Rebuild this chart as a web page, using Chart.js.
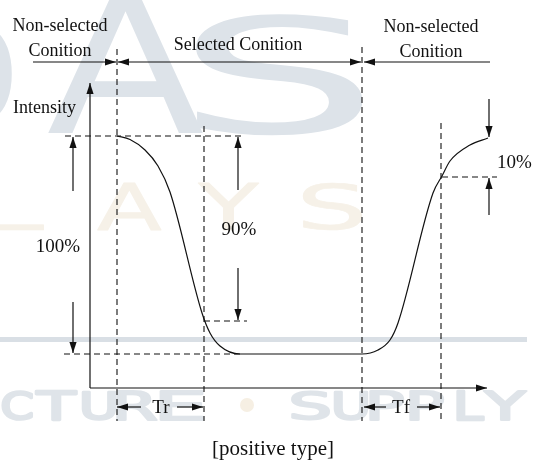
<!DOCTYPE html>
<html><head><meta charset="utf-8">
<script src="https://cdn.jsdelivr.net/npm/chart.js@4"></script>
<style>html,body{margin:0;padding:0;background:#fff;} canvas{display:block;}</style>
</head><body>
<canvas id="c" width="539" height="463"></canvas>
<script>
// Response curve (diagram units: x = time, y = screen-down units)
const curveX = [117, 130, 145, 158, 170, 202, 210, 220, 240, 362, 378, 390, 398, 433, 442, 450, 470, 488];
const curveY = [136, 139.5, 150, 166, 192, 313, 333, 346, 354, 354, 350, 340, 323, 193, 176, 161, 145, 138];

// solid arrows: [x1, y1, x2, y2, headAtEnd]
const solidArrows = [
  [90, 388, 90, 83, 1],      // intensity axis
  [90, 388, 487, 388, 1],    // time axis
  [33, 62, 116, 62, 1],
  [240, 62, 118, 62, 1],
  [240, 62, 361, 62, 1],
  [490, 62, 364, 62, 1],
  [73, 191, 73, 137, 1],
  [73, 302, 73, 353, 1],
  [238, 190, 238, 137, 1],
  [238, 268, 238, 320, 1],
  [489, 99, 489, 137, 1],
  [489, 215, 489, 178, 1],
  [141, 407, 117, 407, 1],
  [177, 407, 203, 407, 1],
  [386, 407, 364, 407, 1],
  [417, 407, 440, 407, 1]
];
// dashed guide lines: [x1, y1, x2, y2]
const dashedLines = [
  [117, 49, 117, 421],
  [204, 126, 204, 421],
  [362, 47, 362, 421],
  [441, 123, 441, 421],
  [65, 136, 245, 136],
  [64, 354, 240, 354],
  [204, 321, 247, 321],
  [442, 177, 497, 177]
];
// labels: [text, x, y(baseline), align, size]
const labels = [
  ['Non-selected', 60, 31, 'center', 18],
  ['Conition', 60, 56, 'center', 18],
  ['Selected Conition', 238, 50, 'center', 18],
  ['Non-selected', 431, 32, 'center', 18],
  ['Conition', 431, 57, 'center', 18],
  ['Intensity', 13, 113, 'left', 18],
  ['100%', 58, 252, 'center', 19],
  ['90%', 239, 235, 'center', 19],
  ['10%', 497, 168, 'left', 19],
  ['Tr', 161, 413, 'center', 19],
  ['Tf', 401, 413, 'center', 19],
  ['[positive type]', 273, 455, 'center', 21]
];
// faint background watermark letters: [char, left, right, top, bottom]
const wmTop = [['D', -95, 12, 13, 133], ['A', 48, 204, -8, 133], ['S', 195, 363, 13, 135]];
const wmMid = [['L', -30, 45, 183, 230], ['A', 97, 162, 183, 230], ['Y', 197, 260, 183, 230], ['S', 303, 363, 183, 230]];
const wmBot = [['C', 3, 32], ['T', 35, 77], ['U', 83, 115], ['R', 117, 157], ['E', 160, 203],
               ['S', 292, 328], ['U', 335, 367], ['P', 370, 403], ['P', 410, 443], ['L', 457, 483], ['Y', 483, 527]];

const INK = '#111';
const datasets = [];
datasets.push({
  data: curveX.map((x, i) => ({x, y: curveY[i]})),
  showLine: true, borderColor: INK, borderWidth: 1.2, pointRadius: 0,
  cubicInterpolationMode: 'monotone', fill: false
});
solidArrows.forEach(a => datasets.push({
  data: [{x: a[0], y: a[1]}, {x: a[2], y: a[3]}],
  showLine: true, borderColor: INK, borderWidth: 1.2, pointRadius: 0, fill: false
}));
dashedLines.forEach(a => datasets.push({
  data: [{x: a[0], y: a[1]}, {x: a[2], y: a[3]}],
  showLine: true, borderColor: INK, borderWidth: 1.1, borderDash: [6, 4], pointRadius: 0, fill: false
}));

function fitChar(ctx, ch, l, r, t, b, font, thicken) {
  ctx.font = font;
  const m = ctx.measureText(ch);
  const w = m.actualBoundingBoxLeft + m.actualBoundingBoxRight;
  const h = m.actualBoundingBoxAscent + m.actualBoundingBoxDescent;
  const sx = (r - l) / w, sy = (b - t) / h;
  ctx.save();
  ctx.translate(l, t);
  ctx.scale(sx, sy);
  ctx.fillText(ch, m.actualBoundingBoxLeft, m.actualBoundingBoxAscent);
  if (thicken) {
    ctx.lineWidth = thicken / ((sx + sy) / 2);
    ctx.lineJoin = 'round';
    ctx.strokeText(ch, m.actualBoundingBoxLeft, m.actualBoundingBoxAscent);
  }
  ctx.restore();
}

const watermark = {
  id: 'watermark',
  beforeDatasetsDraw(chart) {
    const {ctx, scales: {x, y}} = chart;
    ctx.save();
    ctx.textAlign = 'left'; ctx.textBaseline = 'alphabetic';
    const px = v => x.getPixelForValue(v), py = v => y.getPixelForValue(v);
    ctx.fillStyle = ctx.strokeStyle = '#dde3e9';
    wmTop.forEach(c => fitChar(ctx, c[0], px(c[1]), px(c[2]), py(c[3]), py(c[4]), '160px "DejaVu Sans"', 0));
    ctx.fillStyle = ctx.strokeStyle = '#f6f1e8';
    wmMid.forEach(c => fitChar(ctx, c[0], px(c[1]), px(c[2]), py(c[3]), py(c[4]), '64px "DejaVu Sans"', 1));
    ctx.fillStyle = ctx.strokeStyle = '#dfe4e9';
    wmBot.forEach(c => fitChar(ctx, c[0], px(c[1]), px(c[2]), py(392), py(420), '38px "DejaVu Sans"', 3));
    ctx.fillStyle = '#d9dfe5';
    ctx.fillRect(px(0), py(337), px(527) - px(0), py(342) - py(337));
    ctx.fillStyle = '#f6efe3';
    ctx.beginPath(); ctx.arc(px(247), py(405), 7, 0, Math.PI * 2); ctx.fill();
    ctx.restore();
  }
};

const arrowHeads = {
  id: 'arrowHeads',
  afterDatasetsDraw(chart) {
    const {ctx, scales: {x, y}} = chart;
    ctx.save();
    ctx.fillStyle = INK;
    solidArrows.forEach(a => {
      if (!a[4]) return;
      const x1 = x.getPixelForValue(a[0]), y1 = y.getPixelForValue(a[1]);
      const x2 = x.getPixelForValue(a[2]), y2 = y.getPixelForValue(a[3]);
      const ang = Math.atan2(y2 - y1, x2 - x1);
      const L = 11, W = 3.6;
      ctx.beginPath();
      ctx.moveTo(x2, y2);
      ctx.lineTo(x2 - L * Math.cos(ang) + W * Math.sin(ang), y2 - L * Math.sin(ang) - W * Math.cos(ang));
      ctx.lineTo(x2 - L * Math.cos(ang) - W * Math.sin(ang), y2 - L * Math.sin(ang) + W * Math.cos(ang));
      ctx.closePath();
      ctx.fill();
    });
    ctx.restore();
  }
};
const textLabels = {
  id: 'textLabels',
  afterDraw(chart) {
    const {ctx, scales: {x, y}} = chart;
    ctx.save();
    ctx.fillStyle = INK;
    ctx.textBaseline = 'alphabetic';
    labels.forEach(l => {
      ctx.font = l[4] + 'px "Liberation Serif", "Times New Roman", serif';
      ctx.textAlign = l[3];
      ctx.fillText(l[0], x.getPixelForValue(l[1]), y.getPixelForValue(l[2]));
    });
    ctx.restore();
  }
};
const whiteBg = {
  id: 'whiteBg',
  beforeDraw(chart) {
    const ctx = chart.ctx;
    ctx.save(); ctx.fillStyle = '#fff'; ctx.fillRect(0, 0, chart.width, chart.height); ctx.restore();
  }
};

new Chart(document.getElementById('c'), {
  type: 'scatter',
  data: {datasets},
  options: {
    responsive: false, animation: false, devicePixelRatio: 1,
    layout: {padding: 0},
    plugins: {legend: {display: false}, tooltip: {enabled: false}},
    scales: {
      x: {type: 'linear', min: 0, max: 539, display: false},
      y: {type: 'linear', min: 0, max: 463, reverse: true, display: false}
    }
  },
  plugins: [whiteBg, watermark, arrowHeads, textLabels]
});
</script>
</body></html>
